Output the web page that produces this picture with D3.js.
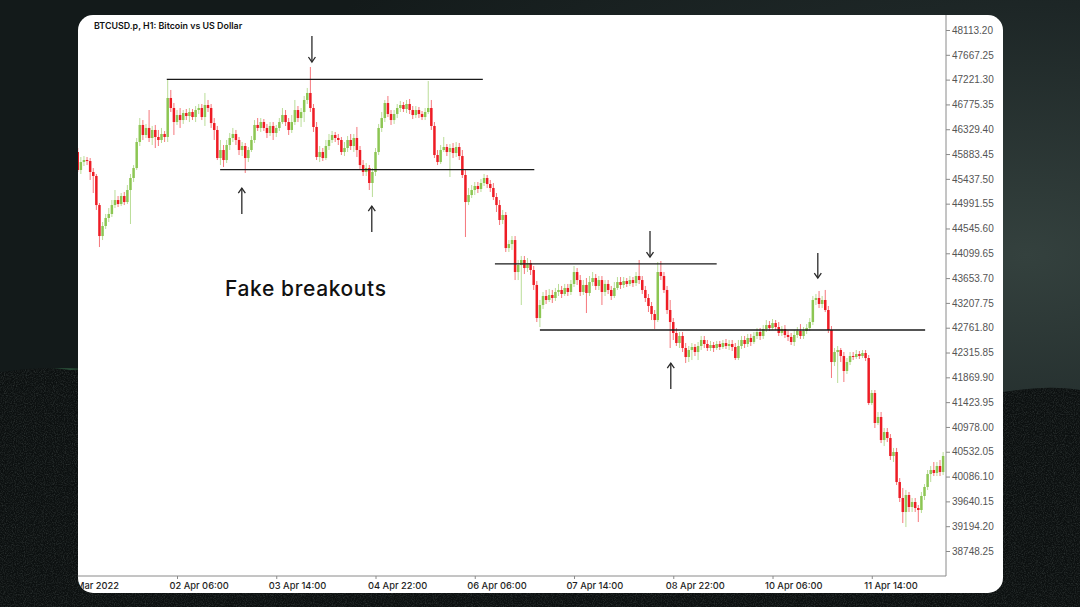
<!DOCTYPE html>
<html><head><meta charset="utf-8">
<script src="https://cdn.jsdelivr.net/npm/d3@7"></script>
<style>html,body{margin:0;padding:0;background:#151d1d;overflow:hidden}</style>
</head><body>
<svg id="c" width="1080" height="607"></svg>
<script>
const title = "BTCUSD.p, H1: Bitcoin vs US Dollar";
const annotation = "Fake breakouts";
const firstBar = "2022-03-31T22:00";
// hourly candles: [open, high, low, close]
const candles = [
[45920,45992,45561,45597],[45597,45830,45525,45740],[45740,45848,45668,45776],[45776,45830,45686,45758],[45758,45812,45417,45561],
[45561,45632,45183,45489],[45489,45525,44878,44967],[44967,45003,44212,44410],[44410,44662,44338,44590],[44590,44806,44536,44734],
[44734,44913,44662,44806],[44806,45057,44752,44967],[44967,45237,44913,45057],[45057,45129,44931,44985],[44985,45183,44949,45129],
[45129,45201,44967,45021],[45021,45327,44985,45237],[45237,45525,44626,45453],[45453,45686,45381,45632],[45632,46172,45597,46100],
[46100,46531,46028,46406],[46406,46495,46136,46226],[46226,46424,46172,46352],[46352,46675,46100,46172],[46172,46388,46046,46316],
[46316,46406,45992,46190],[46190,46316,46028,46136],[46136,46352,46082,46244],[46244,46298,46100,46190],[46190,47214,46100,46891],
[46891,47035,46639,46711],[46711,46801,46226,46459],[46459,46675,46406,46585],[46585,46711,46352,46495],[46495,46675,46424,46621],
[46621,46693,46495,46567],[46567,46711,46459,46639],[46639,46693,46495,46549],[46549,46747,46459,46675],[46675,46783,46603,46711],
[46711,46783,46495,46549],[46549,46981,46388,46765],[46765,46855,46639,46711],[46711,46783,46352,46441],[46441,46531,46136,46316],
[46316,46388,45776,45812],[45812,46136,45686,45956],[45956,46046,45650,45776],[45776,46136,45722,46046],[46046,46262,45956,46172],
[46172,46352,46100,46244],[46244,46316,46046,46136],[46136,46190,45866,45956],[45956,46100,45848,46028],[46028,46082,45543,45812],
[45812,46010,45740,45956],[45956,46208,45920,46136],[46136,46495,46082,46406],[46406,46531,46298,46352],[46352,46531,46280,46459],
[46459,46513,46298,46352],[46352,46424,46172,46262],[46262,46459,46208,46388],[46388,46459,46136,46262],[46262,46406,46190,46352],
[46352,46531,46298,46459],[46459,46711,46424,46585],[46585,46675,46388,46459],[46459,46531,46226,46316],[46316,46585,46262,46459],
[46459,46855,46406,46675],[46675,46747,46459,46531],[46531,46711,46370,46639],[46639,46927,46459,46855],[46855,47071,46783,46981],
[46981,47448,46639,46711],[46711,46783,46280,46370],[46370,46459,45776,45830],[45830,46028,45740,45920],[45920,45992,45758,45812],
[45812,46136,45776,46028],[46028,46244,45956,46136],[46136,46298,46082,46226],[46226,46280,46100,46172],[46172,46244,46046,46136],
[46136,46190,45866,45920],[45920,46100,45848,45992],[45992,46208,45920,46136],[46136,46244,45956,46028],[46028,46244,45920,46172],
[46172,46370,45830,45956],[45956,46028,45597,45686],[45686,45776,45489,45561],[45561,45722,45489,45632],[45632,45686,45237,45363],
[45363,45632,45111,45561],[45561,45992,45489,45920],[45920,46424,45866,46352],[46352,46639,46280,46531],[46531,46855,46459,46801],
[46801,46927,46549,46603],[46603,46675,46406,46495],[46495,46675,46424,46603],[46603,46783,46531,46711],[46711,46837,46639,46765],
[46765,46819,46639,46693],[46693,46855,46621,46783],[46783,46873,46603,46675],[46675,46747,46513,46585],[46585,46747,46531,46675],
[46675,46729,46531,46603],[46603,46657,46495,46549],[46549,46711,46495,46639],[46639,47196,46603,46711],[46711,46855,46316,46388],
[46388,46459,45812,45866],[45866,45956,45686,45740],[45740,46046,45704,45956],[45956,46190,45920,46010],[46010,46064,45848,45920],
[45920,46064,45471,45992],[45992,46082,45812,45902],[45902,46100,45830,46010],[46010,46082,45776,45848],[45848,45956,45453,45507],
[45507,45597,44392,45021],[45021,45273,44967,45147],[45147,45327,45093,45237],[45237,45381,45147,45309],[45309,45381,45183,45255],
[45255,45435,45201,45363],[45363,45525,45309,45453],[45453,45507,45273,45345],[45345,45417,45201,45273],[45273,45363,45057,45111],
[45111,45183,44842,44967],[44967,45057,44608,44698],[44698,44878,44626,44788],[44788,44842,44123,44194],[44194,44338,44123,44266],
[44266,44410,44159,44338],[44338,44410,43619,43763],[43763,43979,43619,43889],[43889,44051,43170,43979],[43979,44051,43727,43835],
[43835,44015,43763,43925],[43925,43979,43709,43799],[43799,43871,43440,43530],[43530,43601,42864,42936],[42936,43260,42774,43170],
[43170,43404,43098,43332],[43332,43440,43188,43260],[43260,43458,43224,43350],[43350,43440,43206,43296],[43296,43476,43242,43404],
[43404,43548,43332,43440],[43440,43512,43296,43368],[43368,43548,43332,43476],[43476,43548,43332,43404],[43404,43619,43350,43548],
[43548,43871,43494,43763],[43763,43835,43530,43619],[43619,43709,43332,43404],[43404,43619,43350,43530],[43530,43655,43026,43386],
[43386,43691,43332,43583],[43583,43763,43512,43655],[43655,43727,43440,43512],[43512,43691,43440,43619],[43619,43691,43170,43404],
[43404,43619,43332,43548],[43548,43619,43368,43440],[43440,43512,43260,43332],[43332,43583,43296,43476],[43476,43673,43440,43583],
[43583,43673,43458,43530],[43530,43673,43476,43601],[43601,43655,43494,43548],[43548,43691,43512,43619],[43619,43673,43494,43565],
[43565,43763,43512,43691],[43691,43979,43548,43619],[43619,43691,43368,43440],[43440,43512,43224,43296],[43296,43368,43044,43152],
[43152,43224,42900,43008],[43008,43080,42739,42900],[42900,43943,42864,43763],[43763,43961,43619,43691],[43691,43763,43386,43440],
[43440,43512,43008,43080],[43080,43260,42397,42864],[42864,42936,42541,42667],[42667,42757,42433,42487],[42487,42685,42397,42613],
[42613,42685,42325,42397],[42397,42487,42127,42235],[42235,42433,42145,42361],[42361,42487,42181,42415],[42415,42469,42253,42325],
[42325,42505,42181,42433],[42433,42613,42361,42541],[42541,42613,42397,42469],[42469,42541,42343,42397],[42397,42523,42343,42451],
[42451,42505,42325,42397],[42397,42523,42361,42469],[42469,42523,42361,42415],[42415,42541,42379,42487],[42487,42559,42379,42433],
[42433,42541,42361,42469],[42469,42541,42343,42415],[42415,42487,42181,42217],[42217,42541,42181,42433],[42433,42613,42379,42541],
[42541,42613,42397,42469],[42469,42649,42415,42577],[42577,42649,42433,42505],[42505,42685,42469,42613],[42613,42757,42559,42685],
[42685,42757,42541,42613],[42613,42810,42559,42739],[42739,42900,42685,42810],[42810,42882,42703,42757],[42757,42918,42721,42846],
[42846,42900,42721,42774],[42774,42864,42613,42667],[42667,42792,42613,42739],[42739,42810,42577,42631],[42631,42721,42523,42595],
[42595,42667,42451,42505],[42505,42721,42433,42631],[42631,42774,42577,42703],[42703,42828,42559,42613],[42613,42774,42559,42703],
[42703,42828,42649,42757],[42757,42936,42703,42864],[42864,43332,42810,43260],[43260,43368,43170,43296],[43296,43422,43116,43188],
[43188,43332,43116,43260],[43260,43440,43044,43080],[43080,43152,42667,42721],[42721,42792,41858,42145],[42145,42397,42073,42325],
[42325,42433,41768,42361],[42361,42397,42145,42253],[42253,42325,41786,41984],[41984,42217,41930,42145],[42145,42325,42091,42253],
[42253,42325,42181,42235],[42235,42361,42199,42289],[42289,42343,42199,42253],[42253,42361,42217,42307],[42307,42361,42163,42217],
[42217,42271,41372,41408],[41408,41642,41372,41588],[41588,41642,40959,41049],[41049,41247,41013,41157],[41157,41247,40689,40743],
[40743,40959,40635,40887],[40887,40959,40707,40779],[40779,40851,40384,40456],[40456,40600,40348,40528],[40528,40600,39934,39988],
[39988,40060,39629,39701],[39701,39881,39251,39449],[39449,39845,39179,39755],[39755,39809,39449,39539],[39539,39701,39449,39629],
[39629,39701,39449,39521],[39521,39575,39269,39485],[39485,39809,39431,39737],[39737,39952,39665,39899],[39899,40204,39845,40132],
[40132,40276,39988,40204],[40204,40348,40096,40150],[40150,40348,40096,40276],[40276,40384,40096,40168],[40168,40528,40114,40456]
];
const yTickValues = [48113.20,47667.25,47221.30,46775.35,46329.40,45883.45,45437.50,44991.55,44545.60,44099.65,43653.70,
  43207.75,42761.80,42315.85,41869.90,41423.95,40978.00,40532.05,40086.10,39640.15,39194.20,38748.25];
const xTickTimes = ["2022-04-02T06:00","2022-04-03T14:00","2022-04-04T22:00","2022-04-06T06:00",
  "2022-04-07T14:00","2022-04-08T22:00","2022-04-10T06:00","2022-04-11T14:00"];
const firstLabel = "31 Mar 2022";
// support / resistance levels: [from candle, to candle, price]
const levels = [[28.7,130.6,47227],[45.9,147.2,45605],[134.5,206,43910],[149,273.2,42721]];
// arrows: [candle position, tail price, head price]
const arrows = [[75.5,48005,47538],[52.9,44805,45273],[94.8,44482,44949],[184.5,44500,44032],[238.6,44104,43655],[191.2,41660,42127]];

const parse = d3.utcParse("%Y-%m-%dT%H:%M");
const fmt = d3.utcFormat("%d %b %H:%M");
const t0 = parse(firstBar);
const HOUR = 3600000;
const timeAt = i => new Date(t0.getTime() + i * HOUR);

const svg = d3.select("#c");
const defs = svg.append("defs");

// ---------- background ----------
const rg = defs.append("radialGradient").attr("id","glow").attr("cx","0.95").attr("cy","0.42").attr("r","0.75");
rg.append("stop").attr("offset","0").attr("stop-color","#34413e");
rg.append("stop").attr("offset","0.55").attr("stop-color","#1d2626");
rg.append("stop").attr("offset","1").attr("stop-color","#131a1a");
svg.append("rect").attr("width",1080).attr("height",607).attr("fill","url(#glow)");
const f = defs.append("filter").attr("id","noise");
f.append("feTurbulence").attr("type","fractalNoise").attr("baseFrequency","0.9").attr("numOctaves","2").attr("result","n");
f.append("feColorMatrix").attr("type","matrix").attr("values","0 0 0 0 0.35  0 0 0 0 0.42  0 0 0 0 0.4  0 0 0 0.7 -0.28");
f.append("feComposite").attr("operator","in").attr("in2","SourceGraphic");
const gb = defs.append("filter").attr("id","blur"); gb.append("feGaussianBlur").attr("stdDeviation","4");
svg.append("ellipse").attr("cx",66).attr("cy",374).attr("rx",14).attr("ry",5).attr("fill","#4c9a63").attr("filter","url(#blur)").attr("opacity",0.8);
const hill = "M0,372 C20,370 45,366 70,370 L1003,392 C1030,388 1055,386 1080,390 L1080,607 L0,607 Z";
svg.append("path").attr("d",hill).attr("fill","#0c1010");
svg.append("path").attr("d",hill).attr("fill","#0c1010").attr("filter","url(#noise)").attr("opacity",0.6);

// ---------- panel ----------
const P = {l:78, t:15, r:1003, b:593};
const plot = {l:78, t:15, r:946, b:576};
svg.append("rect").attr("x",P.l).attr("y",P.t).attr("width",P.r-P.l).attr("height",P.b-P.t).attr("rx",15).attr("fill","#ffffff");
defs.append("clipPath").attr("id","pc").append("rect").attr("x",P.l).attr("y",P.t).attr("width",P.r-P.l).attr("height",P.b-P.t).attr("rx",15);
defs.append("clipPath").attr("id","plotc").append("rect").attr("x",plot.l).attr("y",plot.t).attr("width",plot.r-plot.l).attr("height",plot.b-plot.t);

const x = d3.scaleUtc().domain([timeAt(0), timeAt(279.93)]).range([77.75, plot.r]);
const y = d3.scaleLinear().domain([yTickValues[yTickValues.length-1], yTickValues[0]]).range([551, 30]);

const g = svg.append("g").attr("clip-path","url(#pc)");

// axes
const yAxis = d3.axisRight(y).tickValues(yTickValues).tickSize(4).tickPadding(2).tickFormat(d3.format(".2f"));
const ya = g.append("g").attr("transform",`translate(${plot.r},0)`).call(yAxis);
ya.select(".domain").attr("d",`M0,${plot.t}V${plot.b}`).attr("stroke","#8a8a8a");
ya.selectAll(".tick line").attr("stroke","#8a8a8a");
ya.selectAll("text").attr("fill","#555").style("font-family","'Liberation Sans',Arial,sans-serif").style("font-size","10px");

const xTicks = xTickTimes.map(parse);
const xAxis = d3.axisBottom(x).tickValues(xTicks).tickSize(3).tickFormat(fmt);
const xa = g.append("g").attr("transform",`translate(0,${plot.b})`).call(xAxis);
xa.select(".domain").attr("d",`M${plot.l},0H${plot.r}`).attr("stroke","#8a8a8a");
xa.selectAll(".tick line").attr("stroke","#8a8a8a");
xa.selectAll("text").attr("text-anchor","start").attr("x",-8).attr("y",6).attr("dy","0.71em")
  .attr("fill","#1e1e1e").style("font-family","Inter,'Noto Sans',sans-serif").style("font-size","9.3px").style("font-weight","500");
xa.append("text").attr("x",x(timeAt(0))-14).attr("y",6).attr("dy","0.71em").attr("text-anchor","start").text(firstLabel)
  .attr("fill","#1e1e1e").style("font-family","Inter,'Noto Sans',sans-serif").style("font-size","9.3px").style("font-weight","500");

// candles
const up = "#8cc653", down = "#ee1c25";
const cg = g.append("g").attr("clip-path","url(#plotc)");
const bars = cg.selectAll("g.c").data(candles).join("g").attr("class","c");
bars.append("line")
  .attr("x1",(d,i)=>x(timeAt(i))).attr("x2",(d,i)=>x(timeAt(i)))
  .attr("y1",d=>y(d[1])).attr("y2",d=>y(d[2]))
  .attr("stroke",d=>d[3]>=d[0]?up:down).attr("stroke-width",1).attr("stroke-opacity",0.6);
bars.append("rect")
  .attr("x",(d,i)=>x(timeAt(i))-1.25).attr("width",2.5)
  .attr("y",d=>y(Math.max(d[0],d[3])))
  .attr("height",d=>Math.max(1,Math.abs(y(d[0])-y(d[3]))))
  .attr("fill",d=>d[3]>=d[0]?up:down);

// levels
cg.selectAll("line.lv").data(levels).join("line").attr("class","lv")
  .attr("x1",d=>x(timeAt(d[0]))).attr("x2",d=>x(timeAt(d[1])))
  .attr("y1",d=>y(d[2])).attr("y2",d=>y(d[2]))
  .attr("stroke","#1a1a1a").attr("stroke-width",1.3);

// arrows
const ag = cg.selectAll("g.ar").data(arrows).join("g").attr("class","ar").attr("stroke","#2a2a2a").attr("stroke-width",1.3).attr("fill","none");
ag.append("line").attr("x1",d=>x(timeAt(d[0]))).attr("x2",d=>x(timeAt(d[0]))).attr("y1",d=>y(d[1])).attr("y2",d=>y(d[2]));
ag.append("path").attr("d",d=>{
  const cx = x(timeAt(d[0])), hy = y(d[2]), dir = y(d[1]) > hy ? 1 : -1;
  return `M${cx-3.5},${hy+dir*5}L${cx},${hy}L${cx+3.5},${hy+dir*5}`;
});

// texts
g.append("text").attr("x",94).attr("y",29).text(title).attr("fill","#111")
  .style("font-family","Inter,'Noto Sans',sans-serif").style("font-size","8.9px").style("font-weight","600");
g.append("text").attr("x",x(timeAt(47.5))).attr("y",y(43330)).text(annotation).attr("fill","#111")
  .style("font-family","Inter,'Noto Sans',sans-serif").style("font-size","21px").style("font-weight","500").style("letter-spacing","0.6px");
</script>
</body></html>
